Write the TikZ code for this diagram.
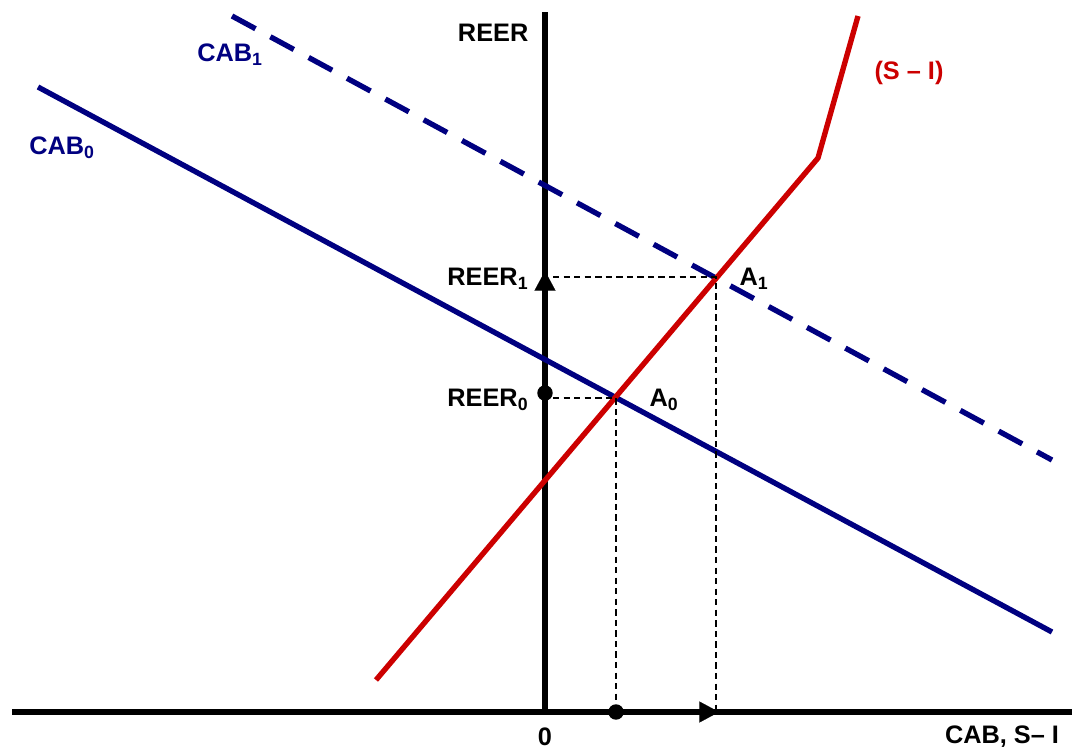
\documentclass[tikz,border=0pt]{standalone}
\usepackage{fontspec}
\setmainfont{Liberation Sans}
\usetikzlibrary{arrows.meta,positioning}
\definecolor{cabblue}{RGB}{0,0,128}
\definecolor{sired}{RGB}{204,0,0}

\begin{document}
\begin{tikzpicture}[x=0.025cm,y=-0.025cm,
  lbl/.style={font=\fontsize{18}{21}\selectfont\bfseries,inner sep=1pt},
  axis/.style={line width=3.8pt},
  guide/.style={dashed,line width=0.8pt,dash pattern=on 4.5pt off 3pt},
  dot/.style={circle,fill=black,inner sep=0pt,minimum size=11pt}]
\useasboundingbox (0,0) rectangle (1072,751);

% axes
\draw[axis] (545,12) -- (545,712);
\draw[axis] (12,712) -- (1072,712);
\node[lbl,left] (reer) at (530,33) {REER};
\node[lbl] (zero) at (545,737) {0};
\node[lbl] (xlab) at (1002,737) {CAB, S-- I};

% CAB curves
\draw[cabblue,line width=3.8pt] (38,87) -- (1052,632);
\draw[cabblue,line width=3.8pt,dash pattern=on 19pt off 12pt] (232,16) -- (1052,460);
\node[lbl,text=cabblue] (cab1) at (230,55) {CAB\textsubscript{1}};
\node[lbl,text=cabblue] (cab0) at (62,148) {CAB\textsubscript{0}};

% S - I curve
\draw[sired,line width=3.8pt,line join=round] (376,680) -- (818,158) -- (858,16);
\node[lbl,text=sired] (si) at (909,73) {(S -- I)};

% equilibria
\coordinate (A0) at (616,398);
\coordinate (A1) at (716,277);
\node[lbl,right] (a0) at (648,400) {A\textsubscript{0}};
\node[lbl,right] (a1) at (738,279) {A\textsubscript{1}};

\node[dot] (r0) at (545,393) {};
\node[dot] (x0) at (616,712) {};
\coordinate (r1) at (545,277);
\coordinate (x1) at (716,712);
\node[lbl,left] (reer0) at (530,400) {REER\textsubscript{0}};
\node[lbl,left] (reer1) at (530,279) {REER\textsubscript{1}};

\draw[guide] (r0.east |- A0) -- (A0) -- (x0);
\draw[guide] (553,277) -- (A1) -- (x1);

% shift arrows
\draw[line width=0.1pt,-{Triangle[length=14pt,width=15pt]}] (545,300) -- (545,271);
\draw[line width=0.1pt,-{Triangle[length=14pt,width=15pt]}] (690,712) -- (719,712);
\end{tikzpicture}
\end{document}
